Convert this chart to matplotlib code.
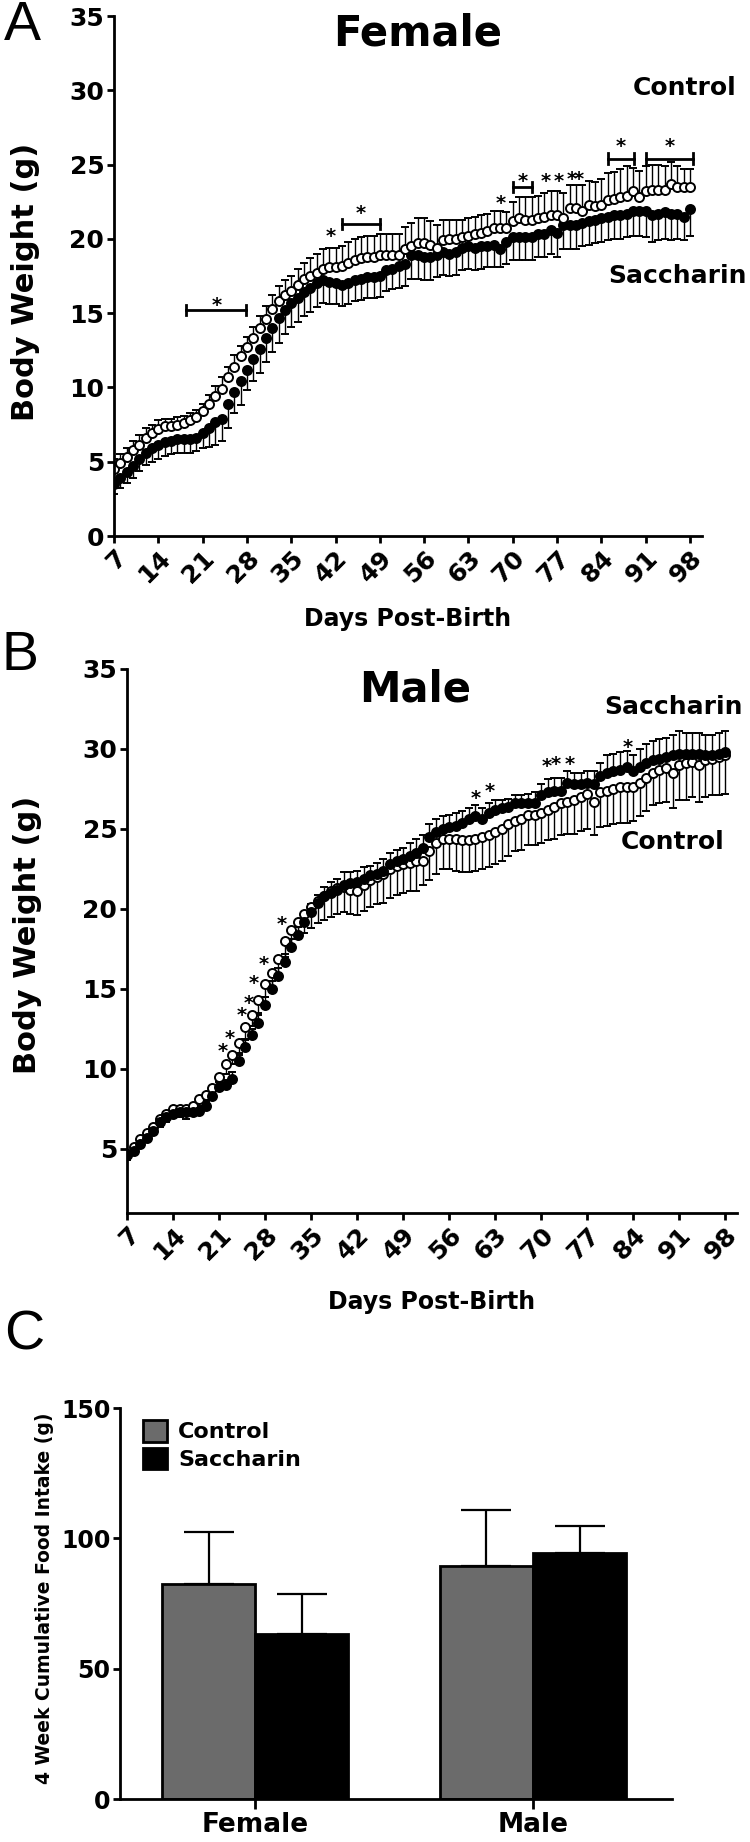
import matplotlib
matplotlib.use("Agg")
import matplotlib.pyplot as plt
from matplotlib.transforms import offset_copy

# days 7..98, one value per day
days = list(range(7, 99))
day_ticks = list(range(7, 99, 7))

# Panel A - female body weight (g)
fem_control = [4.5, 4.9, 5.3, 5.8, 6.1, 6.6, 6.9,
               7.2, 7.4, 7.4, 7.5, 7.6, 7.8, 8.0,
               8.4, 8.9, 9.4, 9.9, 10.7, 11.4, 12.1,
               12.7, 13.3, 14.0, 14.6, 15.3, 15.8, 16.2,
               16.5, 16.9, 17.3, 17.5, 17.7, 18.0, 18.1,
               18.1, 18.2, 18.4, 18.6, 18.7, 18.8, 18.8,
               18.9, 18.9, 18.9, 18.9, 19.3, 19.5, 19.7,
               19.7, 19.6, 19.4, 19.9, 20.0, 20.0, 20.1,
               20.2, 20.3, 20.4, 20.5, 20.7, 20.7, 20.7,
               21.2, 21.4, 21.3, 21.3, 21.4, 21.5, 21.6,
               21.6, 21.4, 22.1, 22.1, 21.9, 22.3, 22.2,
               22.3, 22.6, 22.7, 22.8, 22.9, 23.2, 22.8,
               23.2, 23.3, 23.3, 23.3, 23.7, 23.5, 23.5,
               23.5]
fem_control_sem = [0.7, 0.6, 0.6, 0.6, 0.7, 0.7, 0.6,
                   0.6, 0.5, 0.5, 0.5, 0.5, 0.5, 0.5,
                   0.5, 0.6, 0.7, 0.8, 0.7, 0.8, 0.7,
                   0.7, 0.8, 0.8, 0.9, 0.9, 1.0, 1.0,
                   1.0, 1.1, 1.1, 1.2, 1.3, 1.3, 1.3,
                   1.3, 1.3, 1.4, 1.4, 1.4, 1.4, 1.4,
                   1.4, 1.4, 1.4, 1.4, 1.5, 1.6, 1.7,
                   1.7, 1.6, 1.5, 1.4, 1.3, 1.3, 1.2,
                   1.2, 1.2, 1.2, 1.2, 1.2, 1.2, 1.1,
                   1.3, 1.4, 1.5, 1.5, 1.5, 1.6, 1.6,
                   1.6, 1.7, 1.5, 1.5, 1.7, 1.6, 1.6,
                   1.7, 1.8, 1.8, 1.9, 2.0, 1.6, 1.8,
                   1.7, 1.7, 1.7, 1.6, 1.5, 1.4, 1.2,
                   1.2]
fem_sacch = [3.5, 3.9, 4.3, 4.7, 5.2, 5.6, 5.9,
             6.1, 6.3, 6.4, 6.5, 6.5, 6.5, 6.6,
             6.9, 7.3, 7.7, 7.9, 8.9, 9.7, 10.4,
             11.2, 11.9, 12.6, 13.3, 14.0, 14.7, 15.2,
             15.7, 16.0, 16.4, 16.7, 17.0, 17.2, 17.1,
             17.0, 16.9, 17.0, 17.2, 17.3, 17.4, 17.4,
             17.5, 17.9, 18.0, 18.2, 18.3, 18.9, 18.9,
             18.8, 18.8, 18.9, 19.1, 19.0, 19.1, 19.4,
             19.5, 19.4, 19.5, 19.5, 19.6, 19.3, 19.8,
             20.1, 20.1, 20.1, 20.1, 20.3, 20.3, 20.6,
             20.4, 20.9, 20.9, 20.9, 21.1, 21.2, 21.3,
             21.4, 21.5, 21.6, 21.6, 21.7, 21.9, 21.9,
             21.9, 21.6, 21.7, 21.8, 21.7, 21.7, 21.5,
             22.0]
fem_sacch_sem = [0.7, 0.7, 0.7, 0.8, 0.8, 0.8, 0.9,
                 0.9, 0.9, 0.9, 0.9, 0.9, 0.9, 0.9,
                 1.0, 1.3, 1.6, 1.5, 1.6, 1.4, 1.6,
                 1.4, 1.5, 1.6, 1.6, 1.6, 1.7, 1.6,
                 1.6, 1.6, 1.6, 1.6, 1.6, 1.5, 1.5,
                 1.4, 1.4, 1.4, 1.4, 1.4, 1.4, 1.4,
                 1.4, 1.4, 1.4, 1.5, 1.5, 1.6, 1.6,
                 1.6, 1.6, 1.5, 1.5, 1.5, 1.5, 1.5,
                 1.5, 1.5, 1.5, 1.4, 1.5, 1.2, 1.5,
                 1.5, 1.5, 1.5, 1.5, 1.5, 1.5, 1.6,
                 1.6, 1.6, 1.6, 1.6, 1.6, 1.6, 1.6,
                 1.6, 1.6, 1.6, 1.6, 1.6, 1.7, 1.7,
                 1.8, 1.8, 1.8, 1.8, 1.8, 1.7, 1.6,
                 1.8]

# Panel B - male body weight (g)
male_control = [4.7, 5.1, 5.6, 6.0, 6.4, 6.9, 7.2,
                7.5, 7.5, 7.5, 7.7, 8.1, 8.4, 8.8,
                9.5, 10.3, 10.9, 11.6, 12.6, 13.4, 14.3,
                15.3, 16.0, 16.9, 18.0, 18.7, 19.2, 19.7,
                20.1, 20.5, 20.8, 21.1, 21.3, 21.4, 21.2,
                21.1, 21.5, 21.8, 22.0, 22.2, 22.5, 22.7,
                22.8, 22.9, 23.0, 23.0, 23.6, 24.1, 24.4,
                24.4, 24.4, 24.3, 24.3, 24.4, 24.5, 24.6,
                24.8, 25.0, 25.3, 25.5, 25.6, 25.9, 25.9,
                26.0, 26.2, 26.4, 26.6, 26.7, 26.8, 27.0,
                27.2, 26.7, 27.3, 27.4, 27.5, 27.6, 27.6,
                27.6, 27.9, 28.2, 28.5, 28.7, 28.8, 28.5,
                29.0, 29.1, 29.2, 29.0, 29.3, 29.4, 29.5,
                29.6]
male_control_sem = [0.4, 0.4, 0.4, 0.4, 0.4, 0.5, 0.5,
                    0.5, 0.5, 0.6, 0.6, 0.5, 0.5, 0.5,
                    0.5, 0.6, 0.6, 0.6, 0.7, 0.7, 0.8,
                    0.8, 0.9, 0.9, 1.0, 1.0, 1.1, 1.2,
                    1.3, 1.4, 1.5, 1.6, 1.6, 1.6, 1.5,
                    1.5, 1.6, 1.7, 1.7, 1.8, 1.8, 1.8,
                    1.8, 1.8, 1.9, 1.5, 1.8, 1.9, 1.9,
                    1.9, 2.0, 2.0, 2.0, 2.0, 2.0, 2.0,
                    2.0, 2.0, 2.0, 1.9, 1.9, 1.9, 1.9,
                    1.9, 1.9, 2.0, 2.0, 2.0, 2.1, 2.1,
                    2.2, 2.1, 2.2, 2.2, 2.2, 2.2, 2.2,
                    2.1, 2.1, 2.1, 2.0, 2.1, 2.1, 2.2,
                    2.2, 2.3, 2.2, 2.3, 2.3, 2.3, 2.4,
                    2.4]
male_sacch = [4.6, 4.9, 5.3, 5.7, 6.1, 6.7, 7.0,
              7.2, 7.3, 7.3, 7.3, 7.4, 7.7, 8.3,
              8.9, 9.0, 9.4, 10.5, 11.4, 12.1, 12.9,
              14.0, 15.0, 15.8, 16.7, 17.6, 18.4, 19.2,
              19.8, 20.4, 20.8, 21.0, 21.2, 21.5, 21.6,
              21.7, 21.9, 22.1, 22.2, 22.4, 22.8, 23.0,
              23.1, 23.3, 23.5, 23.8, 24.5, 24.8, 25.0,
              25.1, 25.2, 25.4, 25.6, 25.8, 25.6, 26.0,
              26.2, 26.3, 26.4, 26.6, 26.6, 26.6, 26.6,
              27.1, 27.3, 27.4, 27.4, 27.9, 27.8, 27.8,
              27.9, 27.8, 28.3, 28.5, 28.6, 28.7, 28.9,
              28.6, 28.9, 29.1, 29.3, 29.4, 29.5, 29.6,
              29.7, 29.7, 29.7, 29.7, 29.6, 29.6, 29.7,
              29.8]
male_sacch_sem = [0.3, 0.3, 0.3, 0.3, 0.3, 0.3, 0.3,
                  0.3, 0.4, 0.4, 0.4, 0.3, 0.3, 0.3,
                  0.3, 0.3, 0.4, 0.4, 0.4, 0.4, 0.5,
                  0.5, 0.5, 0.5, 0.5, 0.5, 0.5, 0.5,
                  0.5, 0.5, 0.6, 0.7, 0.7, 0.8, 0.7,
                  0.7, 0.7, 0.6, 0.7, 0.7, 0.7, 0.7,
                  0.7, 0.8, 0.9, 0.8, 0.8, 0.8, 0.8,
                  0.8, 0.8, 0.7, 0.7, 0.7, 0.7, 0.6,
                  0.6, 0.5, 0.5, 0.5, 0.5, 0.6, 0.7,
                  0.7, 0.8, 0.8, 0.8, 0.7, 0.7, 0.7,
                  0.7, 0.8, 0.8, 1.1, 1.1, 1.1, 1.0,
                  1.0, 1.1, 1.2, 1.2, 1.2, 1.2, 1.3,
                  1.4, 1.3, 1.3, 1.3, 1.3, 1.3, 1.3,
                  1.3]

# significance marks (day, weight)
fem_stars = [(23.2, 15.9), (41.3, 20.6), (46.0, 22.1), (68.1, 22.8), (71.5, 24.3),
             (75.2, 24.3), (77.3, 24.3), (79.3, 24.4), (80.4, 24.4), (87.0, 26.6), (94.8, 26.6)]
fem_brackets = [(18.4, 27.9, 15.2), (43.0, 49.0, 21.0), (70.0, 73.1, 23.5),
                (85.1, 89.2, 25.4), (91.1, 98.5, 25.4)]
male_stars = [(21.5, 11.5), (22.6, 12.3), (24.4, 13.7), (25.5, 14.5), (26.3, 15.7),
              (27.8, 16.9), (30.6, 19.4), (60.1, 27.3), (62.2, 27.7), (70.8, 29.3),
              (72.2, 29.4), (74.3, 29.4), (83.1, 30.5)]

# Panel C - 4 week cumulative food intake (g)
groups = ["Female", "Male"]
intake_control = [82.4, 89.3]
intake_control_sem = [19.9, 21.4]
intake_sacch = [63.2, 94.5]
intake_sacch_sem = [15.6, 10.3]

W, H = 750, 1842
plt.rcParams["font.family"] = "DejaVu Sans"
plt.rcParams["font.weight"] = "bold"
fig = plt.figure(figsize=(W / 100, H / 100), dpi=100)


def rect(x0, y0, x1, y1):
    return [x0 / W, 1 - y1 / H, (x1 - x0) / W, (y1 - y0) / H]


def ftext(x, y, s, **kw):
    fig.text(x / W, 1 - y / H, s, **kw)


def style(ax, fs):
    ax.spines["top"].set_visible(False)
    ax.spines["right"].set_visible(False)
    for s in ["left", "bottom"]:
        ax.spines[s].set_linewidth(2.0)
    ax.tick_params(width=2.0, length=5, direction="out", labelsize=fs, pad=2)


def star(ax, x, y, fs=14):
    tr = offset_copy(ax.transData, fig=fig, y=-0.6 * fs, units="points")
    ax.text(x, y, "*", transform=tr, ha="center", va="baseline", fontsize=fs, fontweight="bold")


def growth(ax, up_y, up_err, up_open, dn_y, dn_err, dn_open):
    zeros = [0] * len(days)
    for y, err, is_open, up in [(dn_y, dn_err, dn_open, False), (up_y, up_err, up_open, True)]:
        yerr = [zeros, err] if up else [err, zeros]
        ax.errorbar(days, y, yerr=yerr, fmt="o", ms=6.5, mew=1.4,
                    mfc="white" if is_open else "black", mec="black",
                    ecolor="black", elinewidth=1.0, capsize=2.6, capthick=1.0)
    ax.set_xticks(day_ticks)
    ax.set_xticklabels([str(d) for d in day_ticks], rotation=45, ha="right", va="top",
                       rotation_mode="anchor")
    style(ax, 18)


# ---- A ----
axA = fig.add_axes(rect(114, 16, 702, 536))
growth(axA, fem_control, fem_control_sem, True, fem_sacch, fem_sacch_sem, False)
axA.set_xlim(7, 99.9)
axA.set_ylim(0, 35)
axA.set_yticks(range(0, 36, 5))
for x0, x1, y in fem_brackets:
    axA.plot([x0, x1], [y, y], color="black", lw=2.0)
    axA.plot([x0, x0], [y - 0.35, y + 0.35], color="black", lw=2.0)
    axA.plot([x1, x1], [y - 0.35, y + 0.35], color="black", lw=2.0)
for x, y in fem_stars:
    star(axA, x, y)

ftext(22, 26, "A", fontsize=40, fontweight="normal", family="Liberation Sans", ha="center", va="center")
ftext(418, 34, "Female", fontsize=30, ha="center", va="center")
ftext(685, 88, "Control", fontsize=18, ha="center", va="center")
ftext(677, 276, "Saccharin", fontsize=18, ha="center", va="center")
ftext(26, 282, "Body Weight (g)", fontsize=22, rotation=90, ha="center", va="center")
ftext(408, 619, "Days Post-Birth", fontsize=17, ha="center", va="center")

# ---- B ----
axB = fig.add_axes(rect(127, 669, 737, 1213))
growth(axB, male_sacch, male_sacch_sem, False, male_control, male_control_sem, True)
axB.set_xlim(7, 99.8)
axB.set_ylim(1, 35)
axB.set_yticks(range(5, 36, 5))
for x, y in male_stars:
    star(axB, x, y)

ftext(20, 656, "B", fontsize=40, fontweight="normal", family="Liberation Sans", ha="center", va="center")
ftext(415, 690, "Male", fontsize=30, ha="center", va="center")
ftext(673, 707, "Saccharin", fontsize=18, ha="center", va="center")
ftext(673, 842, "Control", fontsize=18, ha="center", va="center")
ftext(28, 935, "Body Weight (g)", fontsize=22, rotation=90, ha="center", va="center")
ftext(432, 1302, "Days Post-Birth", fontsize=17, ha="center", va="center")

# ---- C ----
axC = fig.add_axes(rect(120, 1408, 672, 1799))
xc = [0, 1]
bw = 0.335
axC.bar([x - bw / 2 for x in xc], intake_control, width=bw, color="#6b6b6b", edgecolor="black",
        linewidth=2.0, label="Control", zorder=2)
axC.bar([x + bw / 2 for x in xc], intake_sacch, width=bw, color="black", edgecolor="black",
        linewidth=2.0, label="Saccharin", zorder=2)
axC.errorbar([x - bw / 2 for x in xc], intake_control, yerr=[[0, 0], intake_control_sem], fmt="none",
             ecolor="black", elinewidth=1.6, capsize=18, capthick=1.6, zorder=1)
axC.errorbar([x + bw / 2 for x in xc], intake_sacch, yerr=[[0, 0], intake_sacch_sem], fmt="none",
             ecolor="black", elinewidth=1.6, capsize=18, capthick=1.6, zorder=1)
axC.set_xlim(-0.486, 1.5)
axC.set_ylim(0, 150)
axC.set_yticks([0, 50, 100, 150])
axC.set_xticks(xc)
axC.set_xticklabels(groups)
style(axC, 17)
axC.tick_params(axis="x", length=7, labelsize=19)
axC.legend(loc="upper left", bbox_to_anchor=(0.005, 1.02), frameon=False, fontsize=16,
           handlelength=1.1, handleheight=1.1, handletextpad=0.5, labelspacing=0.25)

ftext(24, 1335, "C", fontsize=40, fontweight="normal", family="Liberation Sans", ha="center", va="center")
ftext(45, 1598, "4 Week Cumulative Food Intake (g)", fontsize=13.5, rotation=90, ha="center", va="center")

fig.savefig("out.png", dpi=100)
